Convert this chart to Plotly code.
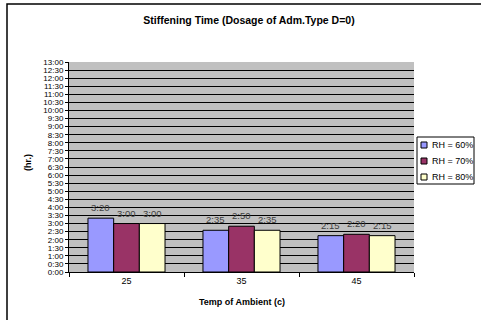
import plotly.graph_objects as go

categories = ["25", "35", "45"]
series_names = ["RH = 60%", "RH = 70%", "RH = 80%"]
# values in hours
rh60 = [3 + 20/60, 2 + 35/60, 2 + 15/60]
rh70 = [3.0, 2 + 50/60, 2 + 20/60]
rh80 = [3.0, 2 + 35/60, 2 + 15/60]
rh60_labels = ["3:20", "2:35", "2:15"]
rh70_labels = ["3:00", "2:50", "2:20"]
rh80_labels = ["3:00", "2:35", "2:15"]
colors = ["#9999FF", "#993366", "#FFFFCC"]

tick_vals = [i * 0.5 for i in range(27)]
tick_text = ["%d:%02d" % (int(v), int(round((v - int(v)) * 60))) for v in tick_vals]

FONT = "Arial, Liberation Sans, sans-serif"
L, R, T, B = 69, 67, 62, 48
PW, PH = 481 - L - R, 320 - T - B
BARGAP = 0.33
BAR_PX = PW / len(categories) * (1 - BARGAP) / len(series_names)


def px_x(x):
    return (x - L) / PW


def px_y(y):
    return (320 - B - y) / PH


fig = go.Figure()
all_vals = [rh60, rh70, rh80]
all_labels = [rh60_labels, rh70_labels, rh80_labels]
for name, vals, col in zip(series_names, all_vals, colors):
    fig.add_trace(go.Bar(
        x=categories, y=vals, name=name,
        marker=dict(color=col, line=dict(color="#000000", width=1)),
        showlegend=False,
    ))

# data labels above bars
for si, (vals, labels) in enumerate(zip(all_vals, all_labels)):
    for ci, (v, lab) in enumerate(zip(vals, labels)):
        fig.add_annotation(x=ci, y=v, xref="x", yref="y", text=lab, showarrow=False,
                           xshift=(si - 1) * BAR_PX, yshift=10.5,
                           xanchor="center", yanchor="middle",
                           font=dict(family=FONT, size=9.5, color="#404040"))

fig.update_layout(
    width=481, height=320,
    margin=dict(l=L, r=R, t=T, b=B, autoexpand=False),
    paper_bgcolor="white", plot_bgcolor="#C0C0C0",
    barmode="group", bargap=BARGAP, bargroupgap=0,
    font=dict(family=FONT, size=8, color="#000000"),
    title=dict(text="<b>Stiffening Time (Dosage of Adm.Type D=0)</b>",
               x=249/481, xanchor="center", xref="container",
               y=1 - 20/320, yanchor="middle", yref="container",
               font=dict(family=FONT, size=10.5, color="#000000")),
    showlegend=False,
)
fig.update_yaxes(range=[0, 13], tickvals=tick_vals, ticktext=tick_text,
                 showgrid=True, gridcolor="#000000", gridwidth=1,
                 showline=True, linecolor="#000000", linewidth=1,
                 ticks="outside", ticklen=3, tickcolor="#000000",
                 tickfont=dict(family=FONT, size=8), zeroline=False)
fig.update_xaxes(type="category", showline=True, linecolor="#000000", linewidth=1,
                 ticks="outside", ticklen=4, tickcolor="#000000",
                 tickson="boundaries", showgrid=False,
                 tickfont=dict(family=FONT, size=9))

fig.add_annotation(text="<b>Temp of Ambient (c)</b>", xref="paper", yref="paper",
                   x=px_x(242), y=px_y(302), showarrow=False,
                   font=dict(family=FONT, size=9), xanchor="center", yanchor="middle")
fig.add_annotation(text="<b>(hr.)</b>", xref="paper", yref="paper",
                   x=px_x(28), y=px_y(163), showarrow=False, textangle=-90,
                   font=dict(family=FONT, size=9), xanchor="center", yanchor="middle")
# outer chart border
fig.add_shape(type="rect", xref="paper", yref="paper",
              x0=px_x(7), x1=px_x(490), y0=px_y(330), y1=px_y(4),
              line=dict(color="#000000", width=1.5), fillcolor="rgba(0,0,0,0)", layer="below")

# legend box
fig.add_shape(type="rect", xref="paper", yref="paper",
              x0=px_x(417), x1=px_x(474), y0=px_y(184), y1=px_y(137),
              line=dict(color="#000000", width=1), fillcolor="white")
for i, (name, col) in enumerate(zip(series_names, colors)):
    cy = 145 + i * 16
    fig.add_shape(type="rect", xref="paper", yref="paper",
                  x0=px_x(421), x1=px_x(427), y0=px_y(cy + 3), y1=px_y(cy - 3),
                  line=dict(color="#000000", width=1), fillcolor=col)
    fig.add_annotation(text=name, xref="paper", yref="paper",
                       x=px_x(430), y=px_y(cy), showarrow=False,
                       xanchor="left", yanchor="middle",
                       font=dict(family=FONT, size=9, color="#000000"))

fig.write_html("out.html", config={"displayModeBar": False},
               post_script="document.body.style.margin='0';document.body.style.padding='0';")
